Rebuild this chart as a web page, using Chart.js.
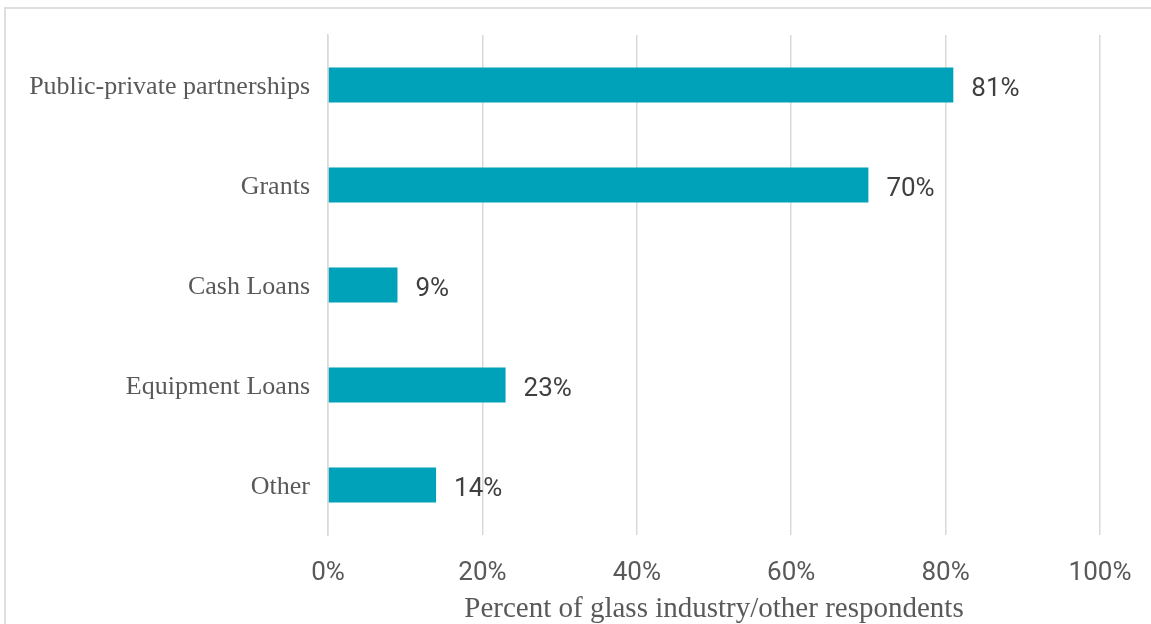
<!DOCTYPE html>
<html>
<head>
<meta charset="utf-8">
<script src="https://cdn.jsdelivr.net/npm/chart.js@4"></script>
<style>
  html, body { margin: 0; padding: 0; background: #fff; overflow: hidden; }
  #wrap { position: relative; width: 1151px; height: 624px; }
  #frame { position: absolute; left: 4px; top: 7px; width: 2000px; height: 2000px;
           border: 2px solid #dedede; pointer-events: none; }
</style>
</head>
<body>
<div id="wrap">
  <canvas id="fundingChart" width="1151" height="624"></canvas>
  <div id="frame"></div>
</div>
<script>
const categories = ['Public-private partnerships', 'Grants', 'Cash Loans', 'Equipment Loans', 'Other'];
const shares = [81, 70, 9, 23, 14];
const tickValues = [0, 20, 40, 60, 80, 100];
const axisTitle = 'Percent of glass industry/other respondents';

// --- value labels to the right of each bar ---
const barLabels = {
  id: 'barLabels',
  afterDatasetsDraw(chart) {
    const ctx = chart.ctx;
    const meta = chart.getDatasetMeta(0);
    ctx.save();
    ctx.font = '26px Roboto, "Liberation Sans", sans-serif';
    ctx.fillStyle = '#404040';
    ctx.textAlign = 'left';
    ctx.textBaseline = 'middle';
    meta.data.forEach((bar, i) => {
      ctx.fillText(shares[i] + '%', bar.x + 18, bar.y + 4);
    });
    ctx.restore();
  }
};

Chart.defaults.animation = false;

new Chart(document.getElementById('fundingChart'), {
  type: 'bar',
  data: {
    labels: categories,
    datasets: [{
      data: shares,
      backgroundColor: '#00a2b9',
      barPercentage: 0.35,
      categoryPercentage: 1
    }]
  },
  options: {
    indexAxis: 'y',
    responsive: false,
    layout: { padding: { top: 35, right: 51, left: 0, bottom: 0 } },
    plugins: { legend: { display: false }, tooltip: { enabled: false } },
    scales: {
      x: {
        min: 0,
        max: 100,
        afterBuildTicks: (scale) => { scale.ticks = tickValues.map(v => ({ value: v })); },
        afterFit: (scale) => {
          scale.height = 89;
          // let the outer padding decide the plot's right edge
          scale.paddingLeft = 0;
          scale.paddingRight = 0;
        },
        grid: { color: '#d9d9d9', lineWidth: 1.5, drawTicks: false },
        border: { display: false },
        ticks: {
          padding: 23,
          maxRotation: 0,
          color: '#595959',
          font: { family: 'Roboto, "Liberation Sans", sans-serif', size: 26 },
          callback: (v) => v + '%'
        },
        title: {
          display: true,
          text: axisTitle,
          color: '#595959',
          padding: { top: 0, bottom: 0 },
          font: { family: '"Liberation Serif", serif', size: 29, lineHeight: 1.0 }
        }
      },
      y: {
        afterFit: (scale) => { scale.width = 328; },
        grid: { display: false },
        border: { color: '#d9d9d9', width: 1.5 },
        ticks: {
          padding: 10,
          labelOffset: 2,
          color: '#595959',
          font: { family: '"Liberation Serif", serif', size: 26 }
        }
      }
    }
  },
  plugins: [barLabels]
});
</script>
</body>
</html>
